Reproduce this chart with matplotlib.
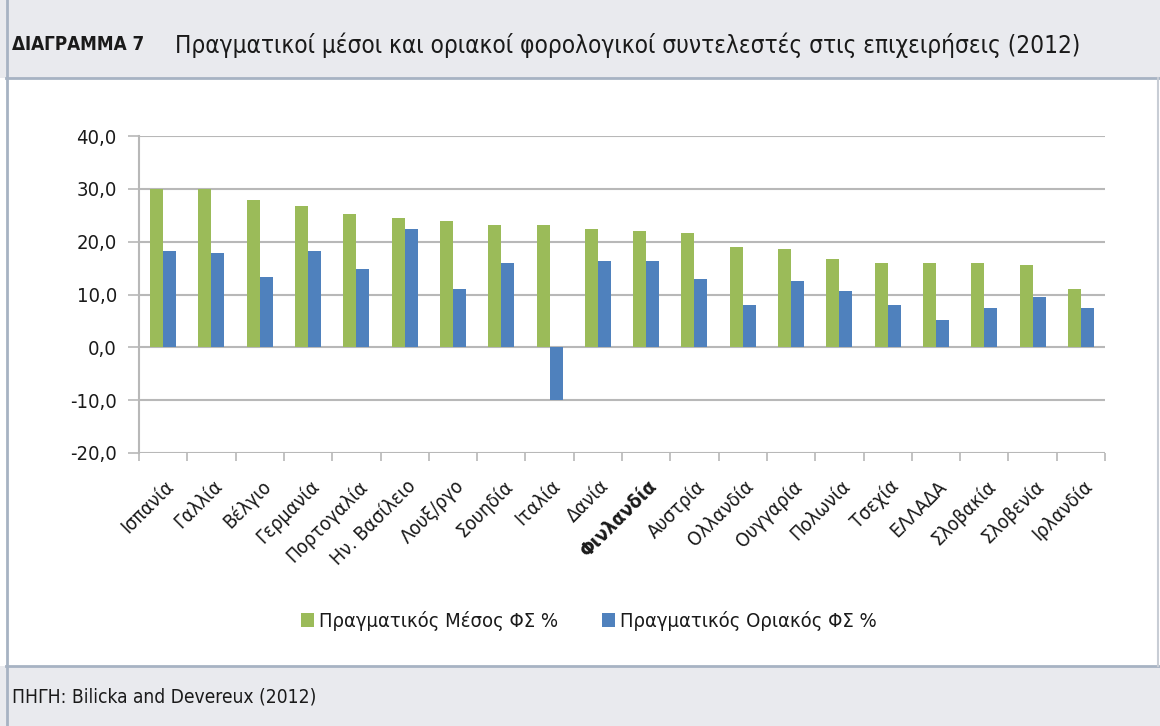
import numpy as np
import matplotlib
matplotlib.use("Agg")
import matplotlib.pyplot as plt
import matplotlib.transforms as mtransforms
from matplotlib.patches import Rectangle

plt.rcParams['font.family'] = ['DejaVu Sans']
plt.rcParams['font.stretch'] = 'condensed'

countries = ['Ισπανία', 'Γαλλία', 'Βέλγιο', 'Γερμανία', 'Πορτογαλία', 'Ην. Βασίλειο',
             'Λουξ/ργο', 'Σουηδία', 'Ιταλία', 'Δανία', 'Φινλανδία', 'Αυστρία',
             'Ολλανδία', 'Ουγγαρία', 'Πολωνία', 'Τσεχία', 'ΕΛΛΑΔΑ', 'Σλοβακία',
             'Σλοβενία', 'Ιρλανδία']
mean_rate = [30.0, 30.0, 27.9, 26.8, 25.3, 24.5, 24.0, 23.2, 23.2, 22.4,
             22.0, 21.6, 19.0, 18.6, 16.8, 16.0, 16.0, 16.0, 15.6, 11.1]
marginal_rate = [18.3, 17.9, 13.4, 18.3, 14.9, 22.4, 11.1, 16.0, -9.9, 16.4,
                 16.4, 13.0, 8.1, 12.6, 10.7, 8.1, 5.1, 7.4, 9.6, 7.4]
yticks = [-20, -10, 0, 10, 20, 30, 40]
series_names = ['Πραγματικός Μέσος ΦΣ %', 'Πραγματικός Οριακός ΦΣ %']

green = '#9BBB59'
blue = '#4F81BD'
grid_col = '#B8B8B8'
band_col = '#E9EAEE'
border_col = '#A7B3C3'
txt = '#1A1A1A'

W, H = 1160, 726
fig = plt.figure(figsize=(W / 100, H / 100), dpi=100)

# header / footer bands and frame
fig.patches.append(Rectangle((0, 1 - 78 / H), 1, 78 / H, transform=fig.transFigure,
                             facecolor=band_col, edgecolor='none', zorder=0))
fig.patches.append(Rectangle((0, 0), 1, 1 - 666 / H, transform=fig.transFigure,
                             facecolor=band_col, edgecolor='none', zorder=0))
for yy in (78, 666):
    fig.add_artist(plt.Line2D([6 / W, 1], [1 - yy / H] * 2, color=border_col, lw=2))
fig.add_artist(plt.Line2D([7 / W] * 2, [0, 1], color=border_col, lw=2))
fig.add_artist(plt.Line2D([1158 / W] * 2, [1 - 78 / H, 1 - 666 / H], color='#C8CDD5', lw=1.5))

fig.text(12 / W, 1 - 45 / H, 'ΔΙΑΓΡΑΜΜΑ 7', fontsize=13.5, fontweight='bold',
         va='center', ha='left', color=txt)
fig.text(175 / W, 1 - 45 / H,
         'Πραγματικοί μέσοι και οριακοί φορολογικοί συντελεστές στις επιχειρήσεις (2012)',
         fontsize=17.5, va='center', ha='left', color=txt)
fig.text(12 / W, 1 - 697 / H, 'ΠΗΓΗ: Bilicka and Devereux (2012)', fontsize=13.8,
         va='center', ha='left', color=txt)

ax = fig.add_axes([139 / W, 1 - 453 / H, (1105 - 139) / W, (453 - 136) / H])
x = np.arange(len(countries))
bw = 0.27
ax.bar(x - bw / 2, mean_rate, bw, color=green, label=series_names[0], zorder=3)
ax.bar(x + bw / 2, marginal_rate, bw, color=blue, label=series_names[1], zorder=3)

ax.set_xlim(-0.5, len(countries) - 0.5)
ax.set_ylim(-20, 40)
ax.set_yticks(yticks)
ax.set_yticklabels([f'{v:.1f}'.replace('.', ',') for v in yticks], fontsize=14.5, color=txt)
ax.yaxis.grid(True, color=grid_col, lw=1.5, zorder=0)
ax.tick_params(axis='y', length=8, color=grid_col, width=1.2, pad=8)
for s in ['top', 'right', 'bottom']:
    ax.spines[s].set_visible(False)
ax.spines['left'].set_color(grid_col)
ax.spines['left'].set_linewidth(1.5)

ax.set_xticks(np.arange(len(countries) + 1) - 0.5)
ax.set_xticklabels([])
ax.tick_params(axis='x', length=6, color=grid_col, width=1.2)

offset = mtransforms.ScaledTranslation(1 / 72, -17 / 72, fig.dpi_scale_trans)
for i, name in enumerate(countries):
    bold = name == 'Φινλανδία'
    ax.text(i, -20, name, rotation=45, ha='right', va='top', rotation_mode='anchor',
            fontsize=14, fontweight='bold' if bold else 'normal',
            color=txt, transform=ax.transData + offset)

fig.legend(loc='center', bbox_to_anchor=(589 / W, 1 - 621 / H), ncol=2, frameon=False,
           fontsize=14.5, handlelength=0.65, handleheight=0.65, handletextpad=0.25,
           columnspacing=2.2, labelcolor=txt)

fig.savefig('out.png', dpi=100)
